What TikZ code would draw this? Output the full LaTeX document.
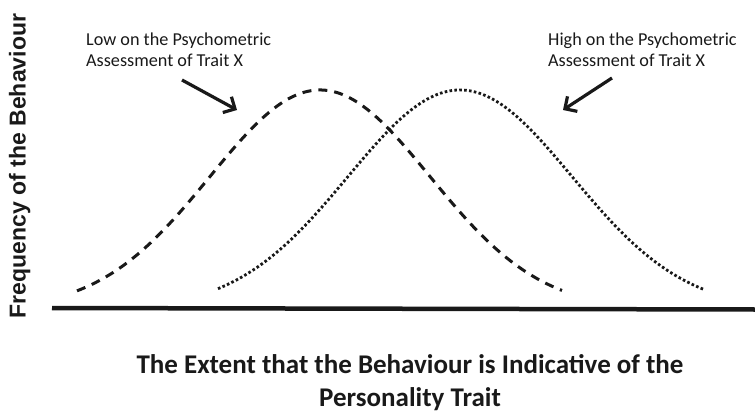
\documentclass[tikz,border=0pt]{standalone}
\usepackage{fontspec}
\setmainfont{Carlito}
\newfontfamily\ylabfont{Liberation Sans}
\usetikzlibrary{arrows.meta}
\begin{document}
\begin{tikzpicture}[x=1pt,y=-1pt,
  axisline/.style={line width=4.5pt,draw=black!90},
  lowcurve/.style={line width=3pt,dash pattern=on 9pt off 7pt,draw=black!90},
  highcurve/.style={line width=2.8pt,dash pattern=on 2.6pt off 2.3pt,draw=black!90},
  pointer/.style={line width=3.2pt,draw=black!90,-{Straight Barb[length=9pt,width=18pt]}},
  note/.style={inner sep=0pt,align=left,font=\fontsize{18.2}{20.5}\selectfont,text=black!90},
  xlab/.style={inner sep=0pt,align=center,font=\fontsize{27}{33}\selectfont\bfseries,text=black!90},
  ylab/.style={inner sep=0pt,font=\ylabfont\fontsize{23}{26}\selectfont\bfseries,text=black!90}
]
\useasboundingbox (0,0) rectangle (755,412);
\coordinate (ax0) at (52,308);
\coordinate (ax1) at (755,309.5);
\draw[axisline] (ax0) -- (ax1);
\draw[lowcurve] plot[domain=77:562,samples=150,smooth] (\x,{310-220*exp(-0.5*((\x-320)/110)^2)});
\draw[highcurve] plot[domain=218:705,samples=150,smooth] (\x,{310-220*exp(-0.5*((\x-460)/112)^2)});
\node[note,anchor=north west] (lowtxt) at (86,33) {Low on the Psychometric\\Assessment of Trait X};
\node[note,anchor=north west] (hightxt) at (548,33) {High on the Psychometric\\Assessment of Trait X};
\coordinate (la0) at (182,80);
\coordinate (la1) at (237,110);
\coordinate (ha0) at (612,78);
\coordinate (ha1) at (563,110);
\draw[pointer] (la0) -- (la1);
\draw[pointer] (ha0) -- (ha1);
\node[xlab,anchor=north] (xlab) at (410,354) {The Extent that the Behaviour is Indicative of the\\Personality Trait};
\node[ylab,rotate=90,anchor=base] (ylab) at (25.5,166) {Frequency of the Behaviour};
\end{tikzpicture}
\end{document}
